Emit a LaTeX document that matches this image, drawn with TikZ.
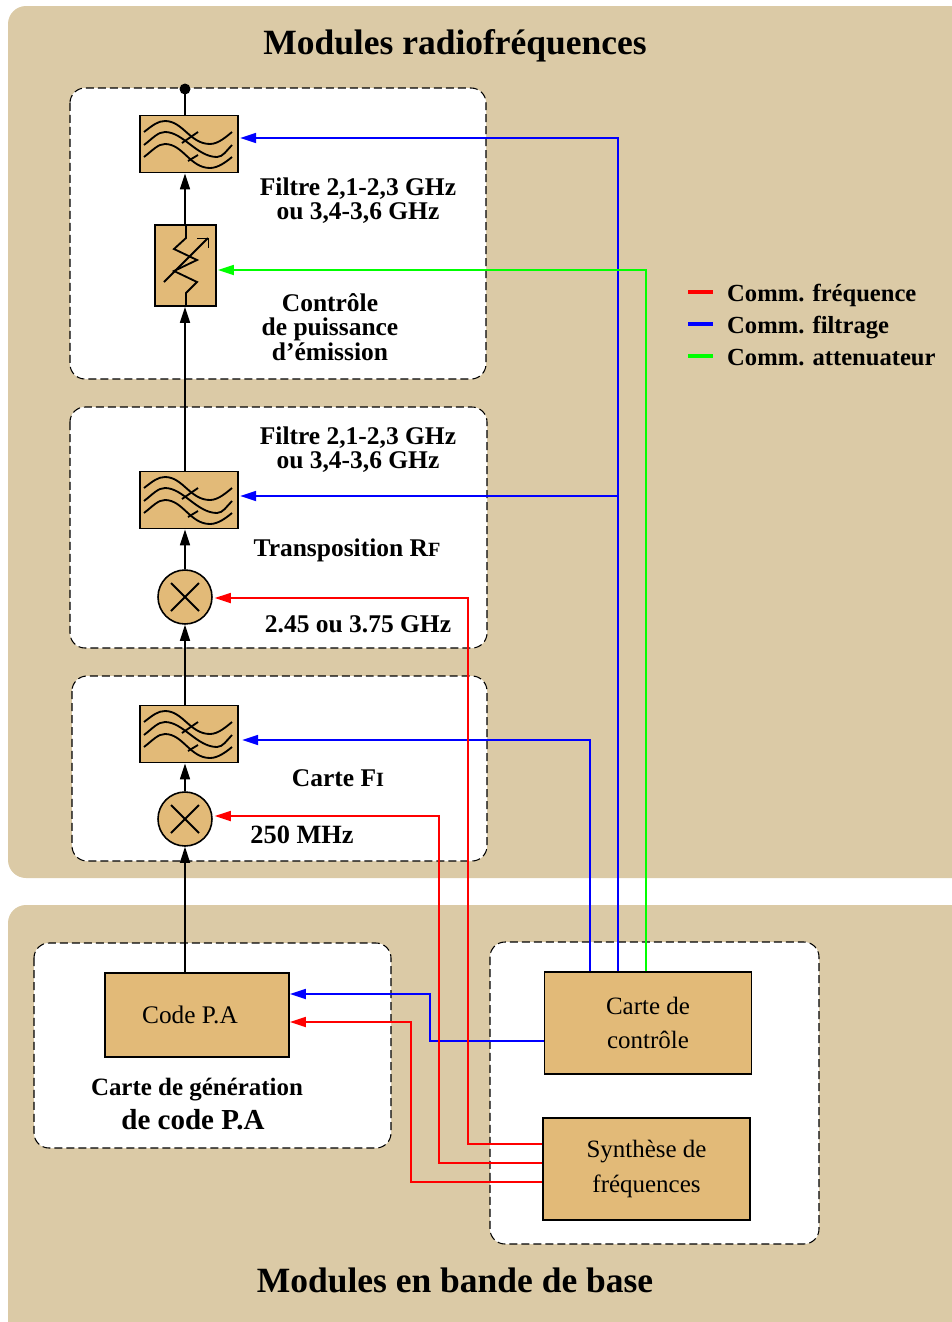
\documentclass[tikz,border=0pt]{standalone}
\usepackage{fontspec}
\setmainfont{Liberation Serif}
\usetikzlibrary{arrows.meta,positioning}
\definecolor{fondtan}{HTML}{DBCAA6}
\definecolor{bloctan}{HTML}{E2BA78}
\newcommand{\petit}[1]{{\fontsize{11.5}{12}\selectfont #1}}
% ondes du filtre, autour du centre du bloc
\newcommand{\ondes}[1]{
    \begin{scope}[shift={(#1)}, x=0.02cm, y=-0.02cm, symbole]
        \draw (-45,-12) .. controls (-36,-19) and (-31,-23) .. (-24,-23) .. controls (-6,-23) and (1,0) .. (21,0) .. controls (29,0) and (37,-7) .. (43,-12);
        \draw (-45,1) .. controls (-36,-6) and (-31,-12) .. (-24,-12) .. controls (-6,-12) and (8,13) .. (28,13) .. controls (34,13) and (38,6) .. (43,1);
        \draw (-45,13) .. controls (-36,6) and (-31,0) .. (-24,0) .. controls (-6,0) and (1,24) .. (21,24) .. controls (29,24) and (37,18) .. (43,13);
        \draw (-7,-1) -- (9,-12);
        \draw (-1,17) -- (9,11);
    \end{scope}
}
\begin{document}
\begin{tikzpicture}[
        x=0.02cm, y=-0.02cm,
        panneau/.style={fill=fondtan, rounded corners=0.36cm},
        carte/.style={draw, dashed, dash pattern=on 0.16cm off 0.08cm, fill=white, rounded corners=0.3cm, line width=0.6pt},
        bloc/.style={draw, fill=bloctan, line width=1.1pt, inner sep=0pt},
        filtre/.style={bloc, minimum width=1.97cm, minimum height=1.14cm},
        melange/.style={bloc, circle, minimum size=1.08cm, line width=0.9pt},
        symbole/.style={line width=1.05pt},
        titre/.style={font=\fontsize{20.2}{24}\selectfont\bfseries},
        label/.style={font=\fontsize{14.5}{13.8}\selectfont\bfseries, align=center},
        legtexte/.style={font=\fontsize{14}{14}\selectfont\bfseries, anchor=base west},
        texte/.style={font=\fontsize{14.2}{19.7}\selectfont, align=center},
        fleche/.style={-{Stealth[length=0.32cm, width=0.2cm, inset=0pt]}, line width=0.95pt},
        comm/.style={-{Stealth[length=0.32cm, width=0.2cm, inset=0pt]}, line width=1pt},
        legende/.style={line width=2pt}
    ]
    \useasboundingbox (0,0) rectangle (951,1322);

    % Fonds
    \fill[panneau] (8,6) rectangle (975,878);
    \fill[panneau] (8,905) rectangle (975,1345);
    \draw[carte] (70,88) rectangle (486,379);
    \draw[carte] (70,407) rectangle (487,648);
    \draw[carte] (72,676) rectangle (487,861);
    \draw[carte] (34,943) rectangle (391,1148);
    \draw[carte] (490,942) rectangle (819,1244);

    % Titres
    \node[titre] (titrerf) at (455,46) {Modules radiofréquences};
    \node[titre] (titrebb) at (455,1280) {Modules en bande de base};

    % Blocs
    \node[filtre] (filt3) at (189,144) {};
    \node[bloc, minimum width=1.22cm, minimum height=1.62cm] (att) at (185.5,265.5) {};
    \node[filtre] (filt2) at (189,500) {};
    \node[melange] (mel2) at (185,597) {};
    \node[filtre] (filt1) at (189,734) {};
    \node[melange] (mel1) at (185,819) {};
    \node[bloc, minimum width=3.68cm, minimum height=1.68cm, font=\fontsize{14.4}{16}\selectfont] (code) at (197,1015) {\hspace{-0.28cm}Code P.A};
    \node[bloc, texte, minimum width=4.14cm, minimum height=2.04cm] (ctrl) at (648,1023) {Carte de\\contrôle};
    \node[bloc, texte, minimum width=4.14cm, minimum height=2.04cm] (synth) at (646.5,1169) {Synthèse de\\fréquences};
    \coordinate (sortie) at (185,89);

    % Symboles
    \ondes{filt3}
    \ondes{filt2}
    \ondes{filt1}
    \foreach \m in {mel1,mel2} {
        \draw[symbole] ([shift={(-0.28cm,0.28cm)}]\m.center) -- ([shift={(0.28cm,-0.28cm)}]\m.center);
        \draw[symbole] ([shift={(-0.28cm,-0.28cm)}]\m.center) -- ([shift={(0.28cm,0.28cm)}]\m.center);
    }
    \draw[symbole] (186,225) -- (186,238) -- (174,249) -- (197,260) -- (174,271) -- (197,282) -- (186,293) -- (186,306);
    \draw[symbole] (164,282) -- (208,238);
    \draw[line width=0.4pt] (197,238) -- (208,238) -- (208,248);

    % Voie montante
    \draw[fleche] (code.north -| mel1) -- (mel1);
    \draw[fleche] (mel1) -- (mel1 |- filt1.south);
    \draw[fleche] (mel1 |- filt1.north) -- (mel2);
    \draw[fleche] (mel2) -- (mel2 |- filt2.south);
    \draw[fleche] (mel2 |- filt2.north) -- (att.south -| mel2);
    \draw[fleche] (att.north -| mel2) -- (mel2 |- filt3.south);
    \draw[line width=0.95pt] (mel2 |- filt3.north) -- (sortie);
    \fill (sortie) circle (0.11cm);

    % Commandes de filtrage
    \draw[comm, blue] (ctrl.north -| 618,0) |- ([shift={(1,-6)}]filt3.east);
    \draw[comm, blue] (618,496) -- ([shift={(1,-4)}]filt2.east);
    \draw[comm, blue] (ctrl.north -| 590,0) |- ([shift={(3,6)}]filt1.east);
    \draw[comm, blue] (ctrl.west |- 0,1041) -- (430,1041) |- ([shift={(0,-21)}]code.east);

    % Commande de l'atténuateur
    \draw[comm, green] (ctrl.north -| 646,0) |- ([shift={(1,4.5)}]att.east);

    % Commandes de fréquence
    \draw[comm, red] (synth.west |- 0,1144) -- (468,1144) |- ([shift={(2,1)}]mel2.east);
    \draw[comm, red] (synth.west |- 0,1163) -- (439,1163) |- ([shift={(2,-3)}]mel1.east);
    \draw[comm, red] (synth.west |- 0,1182) -- (411,1182) |- ([shift={(0,7)}]code.east);

    % Etiquettes
    \node[label] (lab1) at (358,201) {Filtre 2,1-2,3 GHz\\ou 3,4-3,6 GHz};
    \node[label] (lab2) at (330,327) {Contrôle\\de puissance\\d'émission};
    \node[label] (lab3) at (358,450) {Filtre 2,1-2,3 GHz\\ou 3,4-3,6 GHz};
    \node[label] (lab4) at (347,550) {Transposition R\petit{F}};
    \node[label] (lab5) at (358,624) {2.45 ou 3.75 GHz};
    \node[label] (lab6) at (338,778) {Carte F\petit{I}};
    \node[label, font=\fontsize{15}{14}\selectfont\bfseries] (lab7) at (302,835) {250 MHz};
    \node[label, font=\fontsize{14.2}{14}\selectfont\bfseries] (lab8) at (197,1090) {Carte de génération};
    \node[label, font=\fontsize{16.5}{18}\selectfont\bfseries] (lab9) at (193,1120) {de code P.A};

    % Legende
    \node[legtexte] (legf) at (721,301) {Comm. fréquence};
    \node[legtexte] (legc) at (721,333) {Comm. filtrage};
    \node[legtexte] (lega) at (721,365) {Comm. attenuateur};
    \draw[legende, red] (688,292) -- ([shift={(-8,-9)}]legf.base west);
    \draw[legende, blue] (688,324) -- ([shift={(-8,-9)}]legc.base west);
    \draw[legende, green] (688,356) -- ([shift={(-8,-9)}]lega.base west);
\end{tikzpicture}
\end{document}
